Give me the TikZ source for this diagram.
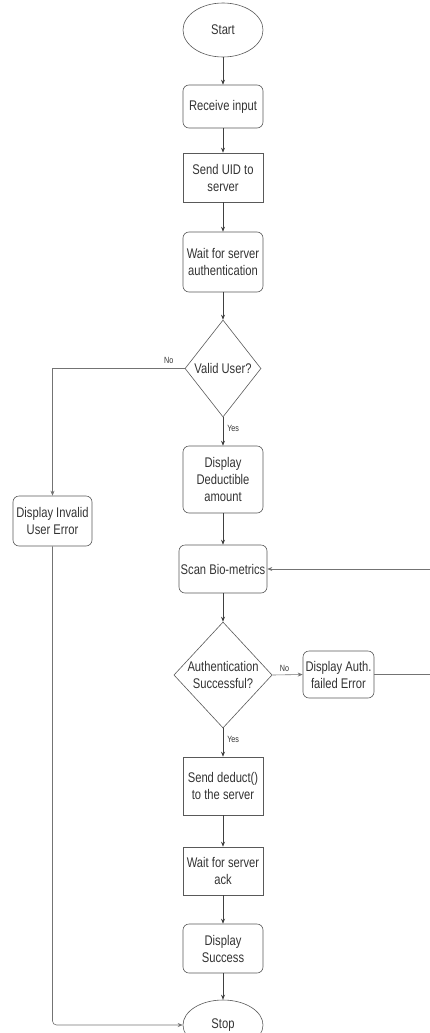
\documentclass[tikz,border=0pt]{standalone}
\usepackage{fontspec}
\setmainfont{Liberation Sans}[FakeStretch=0.8]
\usetikzlibrary{shapes.geometric,arrows.meta}
\begin{document}
\begin{tikzpicture}[x=1pt,y=-1pt,
  every node/.style={font=\fontsize{14}{17}\selectfont, text=black!80, align=center, inner sep=0pt},
  proc/.style={draw=black!65, line width=0.6pt, rectangle, minimum width=80pt},
  rproc/.style={proc, rounded corners=6pt},
  term/.style={draw=black!65, line width=0.6pt, ellipse, minimum width=80pt, minimum height=54pt},
  dec/.style={draw=black!65, line width=0.6pt, diamond},
  lbl/.style={font=\fontsize{9}{10}\selectfont},
  conn/.style={draw=black!75, line width=0.6pt, -{Stealth[length=5pt,width=4pt]}},
  longc/.style={draw=black!55, line width=0.6pt}
]
\useasboundingbox (0,0) rectangle (430,1033);
\node[term] (start) at (223,30) {Start};
\node[rproc, minimum height=43pt] (recv) at (223,106.5) {Receive input};
\node[proc, minimum height=49pt] (uid) at (223,177.5) {Send UID to\\server};
\node[rproc, minimum height=60pt] (wait) at (223,262) {Wait for server\\authentication};
\node[dec, minimum width=76pt, minimum height=97pt] (valid) at (223,368.5) {Valid User?};
\node[rproc, minimum height=67pt] (ded) at (223,479.5) {Display\\Deductible\\amount};
\node[rproc, minimum width=79pt, minimum height=50pt] (inv) at (52.5,521) {Display Invalid\\User Error};
\node[rproc, minimum width=88pt, minimum height=48pt] (scan) at (223,569) {Scan Bio-metrics};
\node[dec, minimum width=92pt, minimum height=106pt] (auth) at (223,675) {Authentication\\Successful?};
\node[rproc, minimum width=71pt, minimum height=47pt] (fail) at (338.5,674.5) {Display Auth.\\failed Error};
\node[proc, minimum height=58pt] (deduct) at (223,786) {Send deduct()\\to the server};
\node[proc, minimum height=48pt] (ack) at (223,871) {Wait for server\\ack};
\node[rproc, minimum height=49pt] (succ) at (223,948.5) {Display\\Success};
\node[term, minimum height=50pt] (stop) at (223,1025) {Stop};
\coordinate (rt) at (432,674.5);
\coordinate (rb) at (432,569);
\coordinate (lc) at (52.5,1025);

\draw[conn] (start) -- (recv);
\draw[conn] (recv) -- (uid);
\draw[conn] (uid) -- (wait);
\draw[conn] (wait) -- (valid);
\draw[conn] (valid) -- node[lbl, right=4pt, pos=0.4] {Yes} (ded);
\draw[conn] (ded) -- (scan);
\draw[conn] (scan) -- (auth);
\draw[conn] (auth) -- node[lbl, right=4pt, pos=0.4] {Yes} (deduct);
\draw[conn] (deduct) -- (ack);
\draw[conn] (ack) -- (succ);
\draw[conn] (succ) -- (stop);
\draw[conn, draw=black!55] (valid.west) -- node[lbl, above=5pt, pos=0.12] {No} (valid.west -| inv.north) [rounded corners=4pt] -- (inv.north);
\draw[conn, draw=black!55, rounded corners=4pt] (inv.south) -- (lc) -- (stop.west);
\draw[conn, draw=black!55] (auth.east) -- node[lbl, above=3pt, pos=0.4] {No} (fail.west);
\draw[conn, draw=black!55] (fail.east) -- (rt) -- (rb) -- (scan.east);
\end{tikzpicture}
\end{document}
